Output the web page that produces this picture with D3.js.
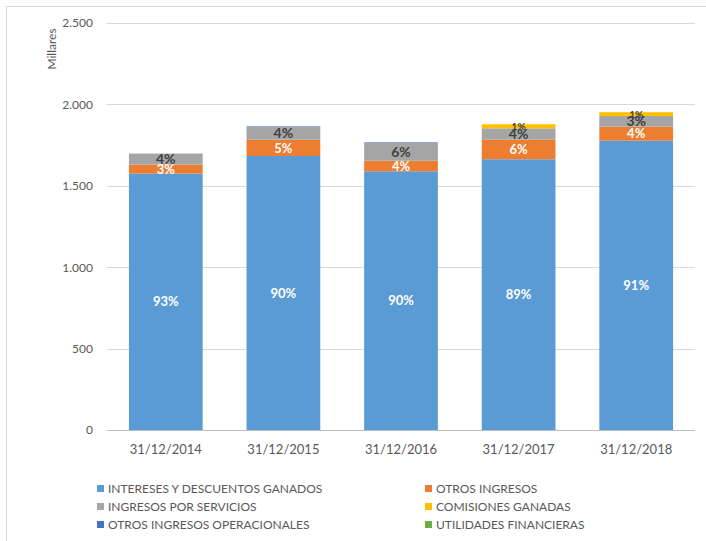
<!DOCTYPE html>
<html><head><meta charset="utf-8">
<script src="https://cdn.jsdelivr.net/npm/d3@7"></script>
<style>body{margin:0;background:#fff}svg{display:block}</style>
</head><body>
<script>
const categories = ["31/12/2014","31/12/2015","31/12/2016","31/12/2017","31/12/2018"];
const seriesNames = ["INTERESES Y DESCUENTOS GANADOS","OTROS INGRESOS","INGRESOS POR SERVICIOS","COMISIONES GANADAS","OTROS INGRESOS OPERACIONALES","UTILIDADES FINANCIERAS"];
const intereses = [1575, 1683, 1589, 1663, 1777];
const otrosIngresos = [55, 100, 65, 120, 86];
const servicios = [68, 80, 111, 70, 66];
const comisiones = [0, 0, 0, 25, 23];
const otrosOperacionales = [0, 3, 3, 0, 0];
const utilidades = [0, 0, 0, 0, 0];
const yTicks = [0, 500, 1000, 1500, 2000, 2500];
const colors = ["#5B9BD5","#ED7D31","#A5A5A5","#FFC000","#4472C4","#70AD47"];
const labelColors = ["#fff","#fff","#404040","#404040",null,null];
const labelSizes = [13,13,14,10,0,0];

const seriesVals = [intereses, otrosIngresos, servicios, comisiones, otrosOperacionales, utilidades];
const rows = categories.map((c,i)=>{const r={cat:c}; seriesNames.forEach((s,j)=>r[s]=seriesVals[j][i]); return r;});

const W=706,H=541;
const svg=d3.select("body").append("svg").attr("width",W).attr("height",H);
svg.append("rect").attr("x",6.5).attr("y",6.5).attr("width",720).attr("height",560).attr("fill","#fff").attr("stroke","#d9d9d9");

const x=d3.scaleBand().domain(categories).range([107,695]).paddingInner(0.373).paddingOuter(0.1865);
const y=d3.scaleLinear().domain([0,2500]).range([430,23]);
const font="Lato, 'Open Sans', sans-serif";

// grid
svg.append("g").selectAll("line").data(yTicks).join("line")
  .attr("x1",107).attr("x2",695).attr("y1",d=>Math.round(y(d))+0.5).attr("y2",d=>Math.round(y(d))+0.5)
  .attr("stroke",d=>d===0?"#bfbfbf":"#d9d9d9").attr("stroke-width",1);

const yAxis=svg.append("g").attr("transform","translate(107,0)").call(d3.axisLeft(y).tickValues(yTicks).tickSize(0).tickPadding(14).tickFormat(d=>d3.format(",")(d).replace(/,/g,".")));
yAxis.select(".domain").remove();
yAxis.selectAll("text").attr("font-family",font).attr("font-size",12).attr("fill","#595959");

svg.append("text").attr("transform","translate(56,49) rotate(-90)").attr("text-anchor","middle")
  .attr("font-family",font).attr("font-size",12).attr("fill","#595959").text("Millares");

const xAxis=svg.append("g").attr("transform","translate(0,430)").call(d3.axisBottom(x).tickSize(0).tickPadding(15));
xAxis.select(".domain").remove();
xAxis.selectAll("text").attr("font-family",font).attr("font-size",13).attr("fill","#595959");

const stack=d3.stack().keys(seriesNames)(rows);
const totals=rows.map(r=>d3.sum(seriesNames,s=>r[s]));
const g=svg.append("g");
stack.forEach((layer,j)=>{
  g.append("g").selectAll("rect").data(layer).join("rect")
    .attr("x",d=>x(d.data.cat)).attr("width",x.bandwidth())
    .attr("y",d=>y(d[1])).attr("height",d=>y(d[0])-y(d[1]))
    .attr("fill",colors[j]);
});
stack.forEach((layer,j)=>{
  if(!labelColors[j]) return;
  g.append("g").selectAll("text").data(layer.filter(d=>d[1]-d[0]>0)).join("text")
    .attr("x",d=>x(d.data.cat)+x.bandwidth()/2)
    .attr("y",d=>(y(d[0])+y(d[1]))/2)
    .attr("dy","0.36em").attr("text-anchor","middle")
    .attr("font-family",font).attr("font-weight","bold").attr("font-size",labelSizes[j])
    .attr("fill",labelColors[j])
    .text(d=>{const i=categories.indexOf(d.data.cat);return Math.round((d[1]-d[0])/totals[i]*100)+"%";});
});

// legend
const legX=[97,425], legY=[489,507,525];
const leg=svg.append("g");
seriesNames.forEach((s,j)=>{
  const lx=legX[j%2], ly=legY[Math.floor(j/2)];
  leg.append("rect").attr("x",lx).attr("y",ly-4).attr("width",7).attr("height",7).attr("fill",colors[j]);
  leg.append("text").attr("x",lx+11).attr("y",ly).attr("dy","0.35em")
    .attr("font-family",font).attr("font-size",12).attr("fill","#595959").text(s);
});
</script>
</body></html>
